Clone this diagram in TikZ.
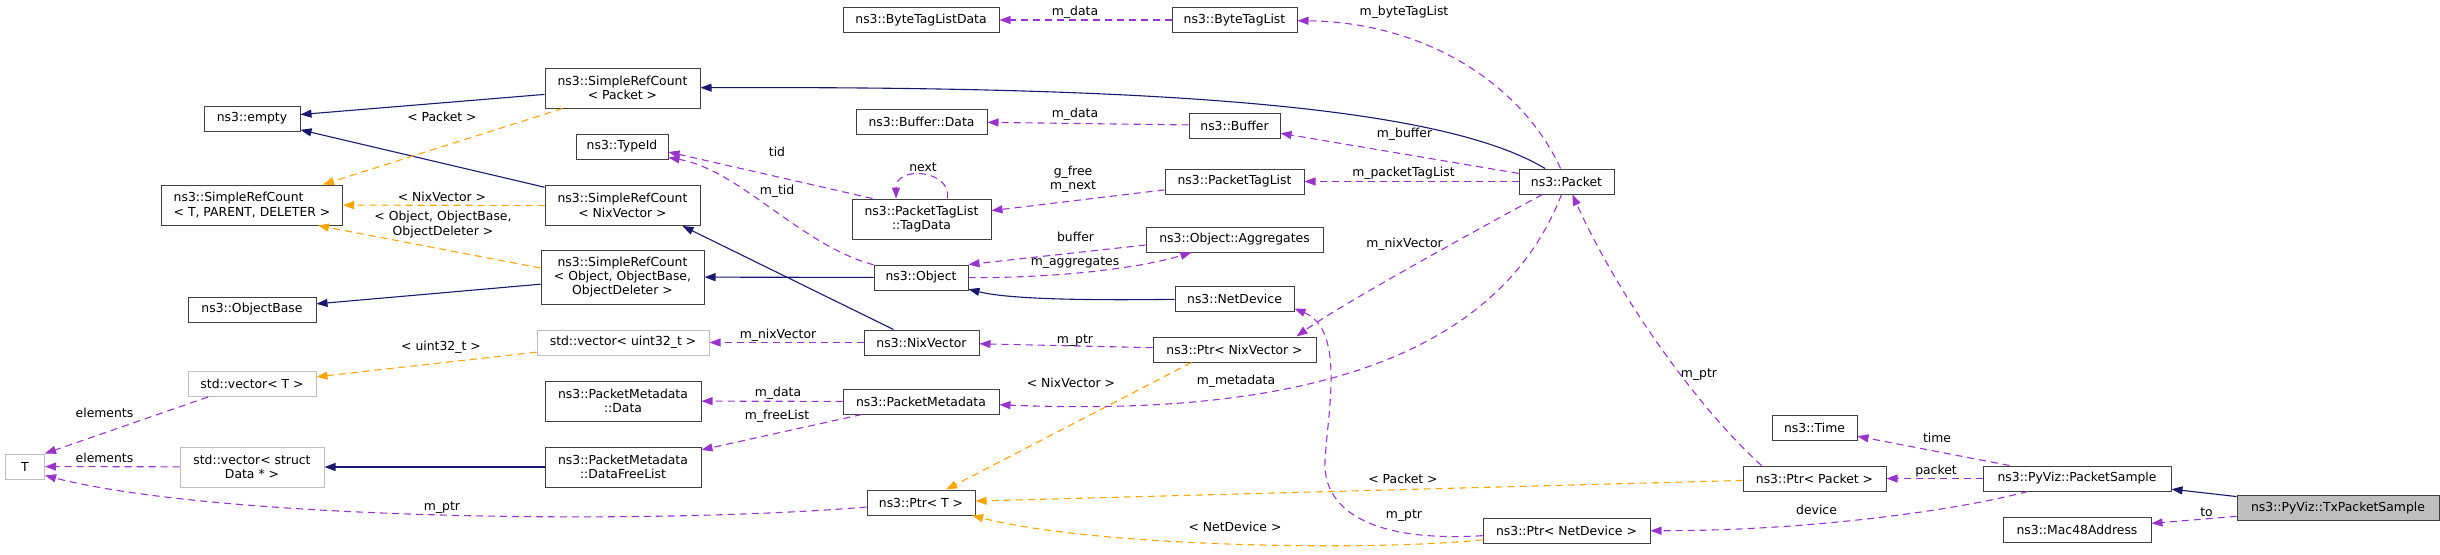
\documentclass[tikz,border=0pt]{standalone}
\usepackage{fontspec}
\setmainfont{DejaVu Sans}
\usepackage{tikz}
\usetikzlibrary{arrows.meta,positioning,calc}
\usepackage{xcolor}
\definecolor{boxedge}{HTML}{404040}
\definecolor{extedge}{HTML}{BFBFBF}
\definecolor{inhblue}{HTML}{191970}
\definecolor{tplorange}{HTML}{FFA500}
\definecolor{usepurple}{HTML}{9A32CD}

\begin{document}
\begin{tikzpicture}[
    x=1pt, y=-1pt,
    cls/.style={rectangle, draw=boxedge, line width=1pt, inner sep=2pt, minimum height=25pt, align=center, font=\fontsize{12.4}{14.3}\selectfont},
    ext/.style={cls, draw=extedge},
    mainbox/.style={cls, fill=extedge, draw=boxedge},
    lbl/.style={inner sep=0pt, align=center, font=\fontsize{12.4}{14.3}\selectfont},
    inh/.style={draw=inhblue, line width=1.1pt, -{Triangle[length=11pt,width=8pt]}},
    tpl/.style={draw=tplorange, line width=1.1pt, dash pattern=on 7pt off 5pt, -{Triangle[length=11pt,width=8pt]}},
    use/.style={draw=usepurple, line width=1.1pt, dash pattern=on 7pt off 5pt, -{Triangle[length=11pt,width=8pt]}}
]
\useasboundingbox (0,0) rectangle (2440,554);

% Left column
\node[ext, minimum width=39pt] (T) at (25,466.5) {T};
\node[cls, minimum width=96pt] (empty) at (252,118.5) {ns3::empty};
\node[cls, minimum width=181pt, minimum height=40pt, align=left] (SRCTPD) at (252,205) {ns3::SimpleRefCount\\< T, PARENT, DELETER >};
\node[cls, minimum width=128pt] (ObjectBase) at (252,309.5) {ns3::ObjectBase};
\node[ext, minimum width=128pt] (vecT) at (252,384) {std::vector< T >};
\node[ext, minimum width=144pt, minimum height=40pt] (vecData) at (252,467) {std::vector< struct\\Data * >};

% Second column
\node[cls, minimum width=155pt, minimum height=40pt] (SRCPacket) at (622.5,88) {ns3::SimpleRefCount\\< Packet >};
\node[cls, minimum width=92pt] (TypeId) at (622,146.5) {ns3::TypeId};
\node[cls, minimum width=155pt, minimum height=40pt] (SRCNix) at (622.5,205.5) {ns3::SimpleRefCount\\< NixVector >};
\node[cls, minimum width=163pt, minimum height=54pt] (SRCObj) at (622.5,277) {ns3::SimpleRefCount\\< Object, ObjectBase,\\ObjectDeleter >};
\node[ext, minimum width=172pt] (vecUint) at (623,342.5) {std::vector< uint32\_t >};
\node[cls, minimum width=156pt, minimum height=40pt] (PMData) at (623,401) {ns3::PacketMetadata\\::Data};
\node[cls, minimum width=156pt, minimum height=40pt] (DataFreeList) at (623,467) {ns3::PacketMetadata\\::DataFreeList};

% Third column
\node[cls, minimum width=156pt] (ByteTagListData) at (921,20) {ns3::ByteTagListData};
\node[cls, minimum width=131pt] (BufferData) at (921.5,121.5) {ns3::Buffer::Data};
\node[cls, minimum width=139pt, minimum height=40pt] (TagData) at (921.5,219) {ns3::PacketTagList\\::TagData};
\node[cls, minimum width=94pt] (Object) at (921,277.5) {ns3::Object};
\node[cls, minimum width=115pt] (NixVector) at (921.5,342.5) {ns3::NixVector};
\node[cls, minimum width=156pt] (PacketMetadata) at (921,401.5) {ns3::PacketMetadata};
\node[cls, minimum width=108pt] (PtrT) at (921,502.5) {ns3::Ptr< T >};

% Fourth column
\node[cls, minimum width=125pt] (ByteTagList) at (1234.5,20) {ns3::ByteTagList};
\node[cls, minimum width=91pt] (Buffer) at (1234.5,125.5) {ns3::Buffer};
\node[cls, minimum width=139pt] (PacketTagList) at (1234.5,181.5) {ns3::PacketTagList};
\node[cls, minimum width=177pt] (Aggregates) at (1234.5,239.5) {ns3::Object::Aggregates};
\node[cls, minimum width=119pt] (NetDevice) at (1234.5,298.5) {ns3::NetDevice};
\node[cls, minimum width=163pt] (PtrNix) at (1234.5,349.5) {ns3::Ptr< NixVector >};

% Right part
\node[cls, minimum width=95pt] (Packet) at (1566.5,181.5) {ns3::Packet};
\node[cls, minimum width=167pt] (PtrNetDev) at (1566.5,530.5) {ns3::Ptr< NetDevice >};
\node[cls, minimum width=85pt] (Time) at (1814.5,428) {ns3::Time};
\node[cls, minimum width=143pt] (PtrPacket) at (1814.5,478.5) {ns3::Ptr< Packet >};
\node[cls, minimum width=188pt] (PacketSample) at (2077,478.5) {ns3::PyViz::PacketSample};
\node[cls, minimum width=148pt] (Mac48) at (2077,529.5) {ns3::Mac48Address};
\node[mainbox, minimum width=202pt] (TxSample) at (2338,508) {ns3::PyViz::TxPacketSample};

% Inheritance arrows
\draw[inh] (SRCPacket) -- (empty);
\draw[inh] (SRCNix) -- (empty);
\draw[inh] (SRCObj) -- (ObjectBase);
\draw[inh] (Object) -- (SRCObj);
\draw[inh] ($(NixVector.north)+(-28,0)$) -- ($(SRCNix.south)+(60,0)$);
\draw[inh] (NetDevice) .. controls (1050,301) and (1000,297) .. (Object);
\draw[inh] (Packet) .. controls (1440,105) and (1150,86) .. (SRCPacket);
\draw[inh] (DataFreeList) -- (vecData);
\draw[inh] (TxSample) -- (PacketSample);

% Template arrows
\draw[tpl] ($(SRCPacket.south)+(-60,0)$) -- ($(SRCTPD.north)+(71,0)$);
\draw[tpl] (SRCNix) -- (SRCTPD);
\draw[tpl] ($(SRCObj.west)+(0,-9)$) -- ($(SRCTPD.south)+(66,0)$);
\draw[tpl] (vecUint) -- (vecT);
\draw[tpl] ($(PtrNix.south)+(-43,0)$) -- (PtrT);
\draw[tpl] (PtrPacket) -- (PtrT);
\draw[tpl] (PtrNetDev) .. controls (1380,551) and (1100,548) .. (PtrT);

% Usage arrows
\draw[use] (ByteTagList) -- (ByteTagListData);
\draw[use] (Packet) .. controls (1520,80) and (1420,22) .. (ByteTagList);
\draw[use] (Buffer) -- (BufferData);
\draw[use] (Packet) -- (Buffer);
\draw[use] (PacketTagList) -- (TagData);
\draw[use] (Packet) -- (PacketTagList);
\draw[use] ($(TagData.north)+(26,0)$) .. controls (952,170) and (896,165) .. ($(TagData.north)+(-25.5,0)$);
\draw[use] ($(TagData.north)+(-49,0)$) -- ($(TypeId.east)+(0,5.5)$);
\draw[use] (Object) .. controls (800,245) and (740,170) .. ($(TypeId.east)+(0,11)$);
\draw[use] (Object) .. controls (1060,278) and (1140,268) .. (Aggregates);
\draw[use] ($(Aggregates.west)+(0,5.5)$) -- (Object.north east);
\draw[use] (NixVector) -- (vecUint);
\draw[use] (PtrNix) -- (NixVector);
\draw[use] (Packet) .. controls (1480,228) and (1340,305) .. ($(PtrNix.north)+(62,0)$);
\draw[use] (Packet) .. controls (1490,380) and (1250,415) .. (PacketMetadata);
\draw[use] (PacketMetadata) -- (PMData);
\draw[use] (PacketMetadata) -- (DataFreeList);
\draw[use] ($(vecT.south)+(-44,0)$) -- (T.north east);
\draw[use] (vecData) -- (T);
\draw[use] (PtrT) .. controls (650,525) and (220,520) .. ($(T.east)+(0,9)$);
\draw[use] (PtrNetDev) .. controls (1380,542) and (1322,515) .. (1325,460) .. controls (1328,410) and (1345,330) .. ($(NetDevice.south east)+(0,-3)$);
\draw[use] ($(PtrPacket.north)+(-53,0)$) .. controls (1700,410) and (1620,300) .. (Packet);
\draw[use] (PacketSample) -- (PtrPacket);
\draw[use] (PacketSample) -- (Time);
\draw[use] (PacketSample) .. controls (1950,512) and (1800,531) .. (PtrNetDev);
\draw[use] (TxSample) -- (Mac48);

% Labels
\node[lbl] (lPacketA) at (442,117) {< Packet >};
\node[lbl] (lNixA) at (442,197) {< NixVector >};
\node[lbl] (lObjA) at (443,224.5) {< Object, ObjectBase,\\ObjectDeleter >};
\node[lbl] (lUint) at (441,347) {< uint32\_t >};
\node[lbl] (lElemA) at (104.5,413) {elements};
\node[lbl] (lElemB) at (104.5,458) {elements};
\node[lbl] (lPtrT) at (442,508) {m\_ptr};
\node[lbl] (lTid) at (777,152) {tid};
\node[lbl] (lMtid) at (777,191) {m\_tid};
\node[lbl] (lNext) at (923,167) {next};
\node[lbl] (lNixVecA) at (778,335) {m\_nixVector};
\node[lbl] (lPMData) at (778,393) {m\_data};
\node[lbl] (lFree) at (777,416) {m\_freeList};
\node[lbl] (lBTLData) at (1075,12) {m\_data};
\node[lbl] (lBufData) at (1075,114) {m\_data};
\node[lbl] (lGfree) at (1073,179.5) {g\_free\\m\_next};
\node[lbl] (lBuf) at (1075.5,237) {buffer};
\node[lbl] (lAggr) at (1075,263) {m\_aggregates};
\node[lbl] (lPtrNix) at (1075,341) {m\_ptr};
\node[lbl] (lNixB) at (1071,383) {< NixVector >};
\node[lbl] (lByte) at (1404,12) {m\_byteTagList};
\node[lbl] (lMbuf) at (1404.5,134) {m\_buffer};
\node[lbl] (lPTL) at (1403.5,173) {m\_packetTagList};
\node[lbl] (lNixVecB) at (1404.5,244) {m\_nixVector};
\node[lbl] (lMeta) at (1236,381) {m\_metadata};
\node[lbl] (lPacketB) at (1403,479) {< Packet >};
\node[lbl] (lNetDev) at (1235,527) {< NetDevice >};
\node[lbl] (lPtrND) at (1404,516) {m\_ptr};
\node[lbl] (lPtrP) at (1699,375) {m\_ptr};
\node[lbl] (lTime) at (1937,438) {time};
\node[lbl] (lPacket) at (1936,471) {packet};
\node[lbl] (lDevice) at (1816.5,510) {device};
\node[lbl] (lTo) at (2206.5,512) {to};

\end{tikzpicture}
\end{document}
